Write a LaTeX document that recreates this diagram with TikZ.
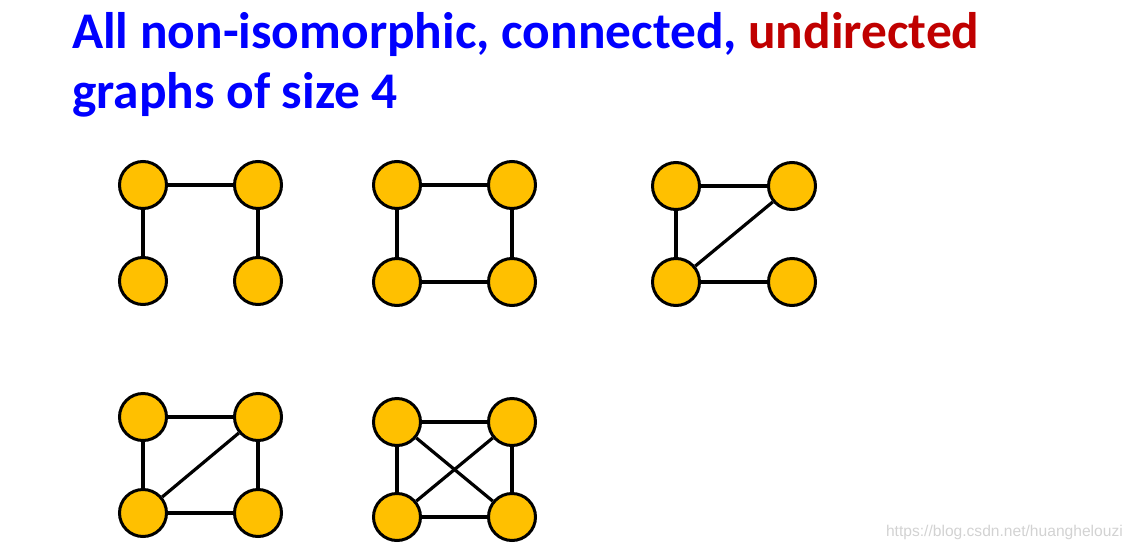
\documentclass[tikz,border=0pt]{standalone}
\usepackage{fontspec}
\setmainfont{Carlito}
\newfontfamily\wmfont{Liberation Sans}
\definecolor{tblue}{RGB}{0,0,255}
\definecolor{tred}{RGB}{192,0,0}
\definecolor{vfill}{RGB}{255,192,0}
\definecolor{wmgray}{RGB}{210,210,210}
\begin{document}
\begin{tikzpicture}[x=1pt,y=-1pt,
  vtx/.style={circle,draw=black,fill=vfill,line width=3pt,minimum size=47pt,inner sep=0pt},
  edge/.style={draw=black,line width=3.2pt},
  title/.style={anchor=base west,inner sep=0pt,font=\bfseries\fontsize{51.4}{60}\selectfont}]
\useasboundingbox (0,0) rectangle (1132,549);
\node[title] (t1) at (72,48)
  {\textcolor{tblue}{All non-isomorphic, connected,} \textcolor{tred}{undirected}};
\node[title,text=tblue] (t2) at (72,108)
  {graphs of size 4};
% graph 1
\node[vtx] (a1) at (143,185) {};
\node[vtx] (a2) at (258,185) {};
\node[vtx] (a3) at (143,281) {};
\node[vtx] (a4) at (258,281) {};
\draw[edge] (a1) -- (a2);
\draw[edge] (a1) -- (a3);
\draw[edge] (a2) -- (a4);
% graph 2
\node[vtx] (b1) at (397,185) {};
\node[vtx] (b2) at (512,185) {};
\node[vtx] (b3) at (397,282) {};
\node[vtx] (b4) at (512,282) {};
\draw[edge] (b1) -- (b2);
\draw[edge] (b1) -- (b3);
\draw[edge] (b2) -- (b4);
\draw[edge] (b3) -- (b4);
% graph 3
\node[vtx] (c1) at (676,186) {};
\node[vtx] (c2) at (792,186) {};
\node[vtx] (c3) at (676,282) {};
\node[vtx] (c4) at (792,282) {};
\draw[edge] (c1) -- (c2);
\draw[edge] (c1) -- (c3);
\draw[edge] (c3) -- (c2);
\draw[edge] (c3) -- (c4);
% graph 4
\node[vtx] (d1) at (143,417) {};
\node[vtx] (d2) at (258,417) {};
\node[vtx] (d3) at (143,513) {};
\node[vtx] (d4) at (258,513) {};
\draw[edge] (d1) -- (d2);
\draw[edge] (d1) -- (d3);
\draw[edge] (d2) -- (d4);
\draw[edge] (d3) -- (d4);
\draw[edge] (d3) -- (d2);
% graph 5
\node[vtx] (e1) at (397,422) {};
\node[vtx] (e2) at (512,422) {};
\node[vtx] (e3) at (397,517) {};
\node[vtx] (e4) at (512,517) {};
\draw[edge] (e1) -- (e2);
\draw[edge] (e1) -- (e3);
\draw[edge] (e2) -- (e4);
\draw[edge] (e3) -- (e4);
\draw[edge] (e1) -- (e4);
\draw[edge] (e3) -- (e2);
% watermark
\node[anchor=base east,inner sep=0pt,text=wmgray,font=\wmfont\fontsize{15.6}{18}\selectfont] (wm) at (1123,536) {https://blog.csdn.net/huanghelouzi};
\end{tikzpicture}
\end{document}
